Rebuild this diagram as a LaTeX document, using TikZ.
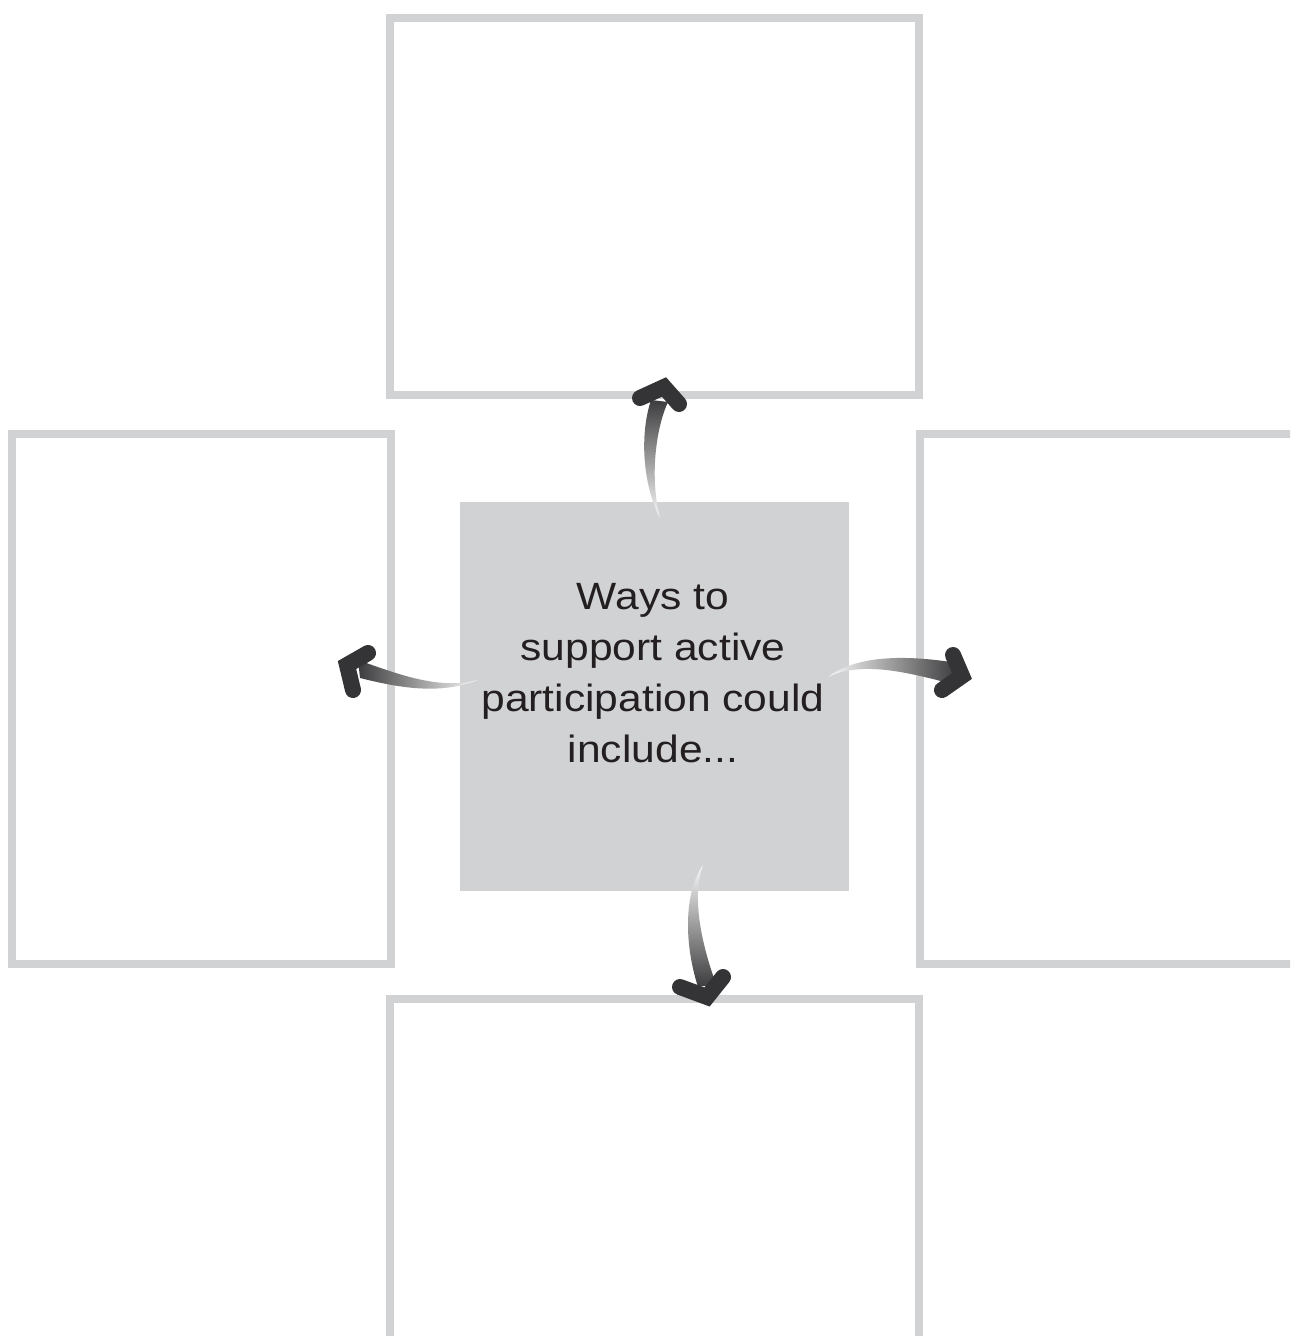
\documentclass[tikz,border=0pt]{standalone}
\usepackage{fontspec}
\newfontfamily\lab[FakeStretch=1.12]{Liberation Sans}
\definecolor{boxgray}{RGB}{209,210,212}
\definecolor{txt}{RGB}{35,31,32}
\definecolor{headc}{RGB}{52,52,54}
\definecolor{taildark}{RGB}{60,60,62}
\definecolor{taillight}{RGB}{248,248,248}
\begin{document}
\begin{tikzpicture}[x=0.5pt,y=-0.5pt,
  outline/.style={draw=boxgray,line width=4pt,inner sep=0pt},
  arrowhead/.style={draw=headc,line width=8pt,line cap=round,line join=miter}]
\useasboundingbox (0,0) rectangle (1290,1336);
\clip (0,0) rectangle (1290,1336);
\fill[white] (0,0) rectangle (1290,1336);
% boxes
\node[outline,minimum width=264.5pt,minimum height=188.5pt] (topbox) at (654.5,206.5) {};
\node[outline,minimum width=189.25pt,minimum height=265pt] (leftbox) at (201.25,699) {};
\node[outline,minimum width=189.25pt,minimum height=265pt] (rightbox) at (1108.75,699) {};
\node[outline,minimum width=264.5pt,minimum height=188.5pt] (bottombox) at (654.5,1187.5) {};
\node[fill=boxgray,minimum width=194.5pt,minimum height=194.5pt,inner sep=0pt] (centerbox) at (654.5,696.5) {};
\node[font=\lab\fontsize{19pt}{25.5pt}\selectfont,text=txt,align=center,inner sep=0pt] (label) at (653,673) {Ways to\\support active\\participation could\\include...};
% top arrow
\shade[top color=taildark,bottom color=taillight]
  (660,518) .. controls (645,490) and (638,440) .. (651,400)
  -- (668,402) .. controls (655,430) and (650,480) .. (660,518) -- cycle;
\draw[arrowhead] (640,398) -- (664,387) -- (679,404);
% left arrow
\shade[left color=taildark,right color=taillight]
  (478,680) .. controls (440,690) and (400,675) .. (358,660)
  -- (360,678) .. controls (400,688) and (440,695) .. (478,680) -- cycle;
\draw[arrowhead] (368,653) -- (347,665) -- (353,690);
% right arrow
\shade[left color=taillight,right color=taildark]
  (828,677) .. controls (850,660) and (890,652) .. (957,663)
  -- (952,684) .. controls (900,670) and (860,662) .. (828,677) -- cycle;
\draw[arrowhead] (953,655) -- (962,676) -- (942,690);
% bottom arrow
\shade[top color=taillight,bottom color=taildark]
  (703,865) .. controls (685,890) and (683,940) .. (698,987)
  -- (716,984) .. controls (700,940) and (692,895) .. (703,865) -- cycle;
\draw[arrowhead] (680,987) -- (707,997) -- (723,977);
\end{tikzpicture}
\end{document}
